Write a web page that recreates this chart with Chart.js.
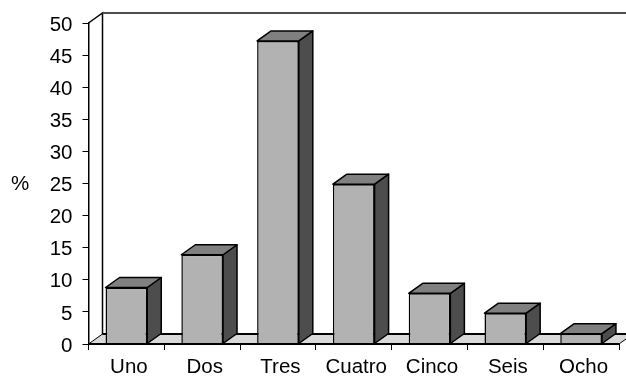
<!DOCTYPE html>
<html>
<head>
<meta charset="utf-8">
<style>
html, body { margin: 0; padding: 0; background: #fff; overflow: hidden; }
</style>
<script src="https://cdn.jsdelivr.net/npm/chart.js@4"></script>
</head>
<body>
<canvas id="chart" width="626" height="376"></canvas>
<script>
const categories = ['Uno', 'Dos', 'Tres', 'Cuatro', 'Cinco', 'Seis', 'Ocho'];
const percentValues = [8.8, 13.9, 47.2, 24.9, 7.9, 4.8, 1.6];

// depth of the fake 3D box
const DX = 14;
const DY = -10;

function fillShape(ctx, points, fill, stroke, lineWidth) {
    ctx.beginPath();
    points.forEach((p, i) => i ? ctx.lineTo(p[0], p[1]) : ctx.moveTo(p[0], p[1]));
    ctx.closePath();
    ctx.fillStyle = fill;
    ctx.fill();
    ctx.strokeStyle = stroke;
    ctx.lineWidth = lineWidth;
    ctx.stroke();
}

const box3d = {
    id: 'box3d',
    beforeDatasetsDraw(chart) {
        const ctx = chart.ctx;
        const a = chart.chartArea;
        ctx.save();
        // back wall
        ctx.strokeStyle = '#000';
        ctx.lineWidth = 1.5;
        ctx.beginPath();
        ctx.moveTo(a.left + DX, a.bottom + DY);
        ctx.lineTo(a.left + DX, a.top + DY);
        ctx.lineTo(a.left, a.top);
        ctx.stroke();
        ctx.strokeStyle = '#4d4d4d';
        ctx.lineWidth = 2;
        ctx.beginPath();
        ctx.moveTo(a.left + DX, a.top + DY);
        ctx.lineTo(chart.width, a.top + DY);
        ctx.stroke();
        // floor
        ctx.beginPath();
        ctx.moveTo(a.left, a.bottom);
        ctx.lineTo(a.left + DX, a.bottom + DY);
        ctx.lineTo(a.right + DX, a.bottom + DY);
        ctx.lineTo(a.right, a.bottom);
        ctx.closePath();
        ctx.fillStyle = '#d9d9d9';
        ctx.fill();
        ctx.strokeStyle = '#000';
        ctx.lineWidth = 1;
        ctx.stroke();
        ctx.lineWidth = 2;
        ctx.beginPath();
        ctx.moveTo(a.left + DX, a.bottom + DY);
        ctx.lineTo(chart.width, a.bottom + DY);
        ctx.stroke();
        ctx.restore();
    },
    afterDatasetsDraw(chart) {
        const ctx = chart.ctx;
        ctx.save();
        ctx.lineJoin = 'round';
        chart.getDatasetMeta(0).data.forEach(bar => {
            const p = bar.getProps(['x', 'y', 'width', 'base']);
            const l = p.x - p.width / 2;
            const r = p.x + p.width / 2;
            fillShape(ctx, [[r, p.y], [r + DX, p.y + DY], [r + DX, p.base + DY], [r, p.base]], '#4d4d4d', '#000', 1.5);
            fillShape(ctx, [[l, p.y], [l + DX, p.y + DY], [r + DX, p.y + DY], [r, p.y]], '#808080', '#000', 1.5);
        });
        // axis unit, kept horizontal
        ctx.fillStyle = '#000';
        ctx.font = '20.5px "Liberation Sans"';
        ctx.textAlign = 'center';
        ctx.textBaseline = 'middle';
        ctx.fillText('%', 20, 184);
        // heavy base line over the bars
        const a = chart.chartArea;
        ctx.strokeStyle = '#000';
        ctx.lineWidth = 2;
        ctx.beginPath();
        ctx.moveTo(a.left, a.bottom);
        ctx.lineTo(a.right, a.bottom);
        ctx.stroke();
        ctx.restore();
    }
};

new Chart(document.getElementById('chart'), {
    type: 'bar',
    data: {
        labels: categories,
        datasets: [{
            data: percentValues,
            backgroundColor: '#b2b2b2',
            borderColor: '#000',
            borderWidth: 1.5,
            barPercentage: 0.55,
            categoryPercentage: 1
        }]
    },
    options: {
        responsive: false,
        animation: false,
        layout: { padding: { top: 23, right: 7, left: 0, bottom: 0 } },
        plugins: { legend: { display: false }, tooltip: { enabled: false } },
        scales: {
            x: {
                afterFit: s => { s.height = 32; },
                grid: { drawOnChartArea: false, color: '#000', tickLength: 6, offset: true },
                border: { color: '#000', width: 1 },
                ticks: { color: '#000', font: { family: 'Liberation Sans', size: 20.5 }, maxRotation: 0, autoSkip: false, padding: 5, labelOffset: 2.5 }
            },
            y: {
                min: 0,
                max: 50,
                afterFit: s => { s.width = 88.5; },
                grid: { drawOnChartArea: false, color: '#000', tickLength: 6 },
                border: { color: '#000', width: 1.5 },
                ticks: { stepSize: 5, color: '#000', font: { family: 'Liberation Sans', size: 20.5 }, padding: 10, labelOffset: 2 }
            }
        }
    },
    plugins: [box3d]
});
</script>
</body>
</html>
